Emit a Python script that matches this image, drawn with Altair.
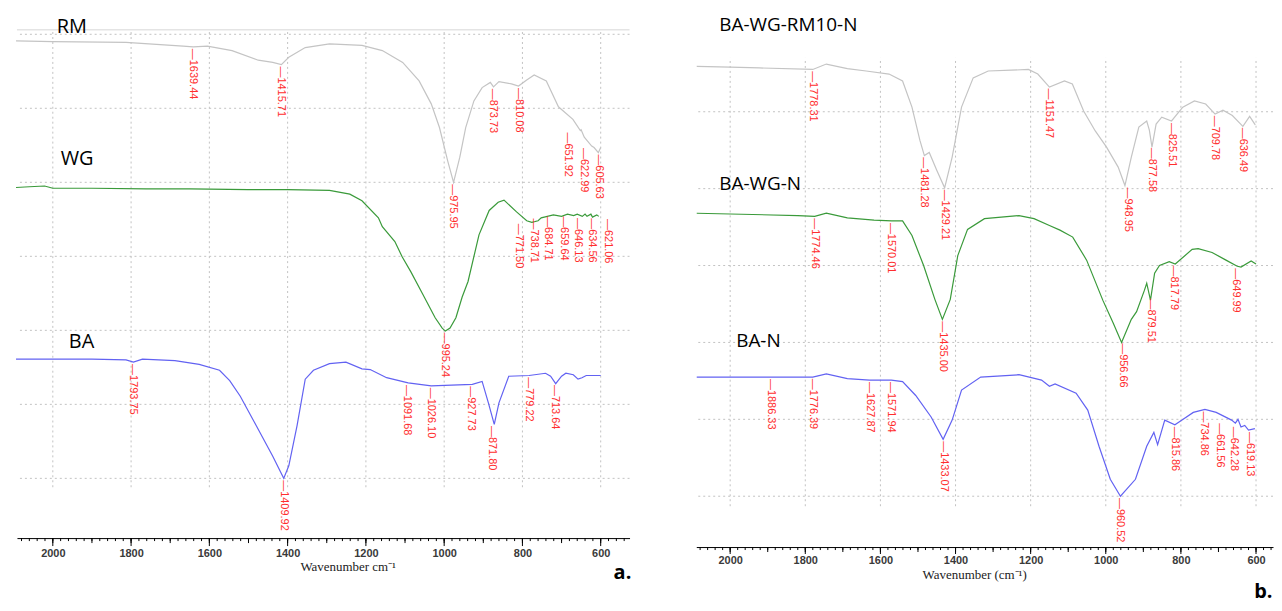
import altair as alt
import pandas as pd
import numpy as np

# ---------------- panel a spectra ----------------
rm_wn = [2094, 2000, 1813, 1667, 1641, 1605, 1542, 1475, 1438, 1416, 1397, 1355, 1293, 1210, 1158, 1106,
         1064, 1033, 1012, 991, 976, 960, 945, 924, 903, 882, 874, 860, 828, 810, 790, 770, 739, 708,
         671, 652, 650, 642, 623, 617, 606, 600]
rm_val = [5.91, 5.90, 5.89, 5.84, 5.83, 5.84, 5.78, 5.65, 5.62, 5.59, 5.69, 5.82, 5.87, 5.85, 5.78, 5.62,
          5.37, 5.06, 4.74, 4.29, 4.00, 4.34, 4.74, 5.10, 5.28, 5.35, 5.29, 5.36, 5.33, 5.30, 5.38, 5.45,
          5.37, 5.02, 4.85, 4.70, 4.71, 4.61, 4.49, 4.47, 4.40, 4.47]

wg_wn = [2094, 2060, 2021, 2000, 1900, 1761, 1650, 1501, 1400, 1293, 1241, 1210, 1168, 1158, 1126, 1107,
         1085, 1056, 1023, 1005, 997, 985, 970, 954, 939, 911, 885, 862, 847, 815, 789, 776, 760, 752,
         721, 700, 685, 669, 660, 647, 640, 635, 625, 621, 610, 605]
wg_val = [3.93, 3.94, 3.95, 3.92, 3.92, 3.91, 3.91, 3.90, 3.90, 3.89, 3.84, 3.75, 3.52, 3.40, 3.20, 2.99,
          2.79, 2.50, 2.17, 2.03, 1.99, 2.03, 2.17, 2.45, 2.66, 3.29, 3.62, 3.73, 3.76, 3.60, 3.48, 3.46,
          3.48, 3.52, 3.56, 3.54, 3.57, 3.55, 3.57, 3.54, 3.57, 3.54, 3.57, 3.53, 3.56, 3.54]

ba_wn = [2094, 1900, 1813, 1794, 1771, 1688, 1626, 1574, 1548, 1521, 1480, 1438, 1410, 1397, 1376, 1355,
         1334, 1293, 1251, 1210, 1189, 1147, 1092, 1033, 981, 928, 903, 887, 872, 860, 835, 783, 741,
         728, 715, 700, 689, 670, 658, 648, 637, 600]
ba_val = [1.61, 1.61, 1.60, 1.57, 1.61, 1.59, 1.54, 1.46, 1.32, 1.11, 0.71, 0.30, 0.00, 0.17, 0.71, 1.34,
          1.46, 1.55, 1.57, 1.48, 1.47, 1.36, 1.29, 1.25, 1.26, 1.27, 1.31, 1.02, 0.73, 1.02, 1.38, 1.39,
          1.42, 1.38, 1.28, 1.38, 1.42, 1.40, 1.34, 1.36, 1.39, 1.39]

# ---------------- panel b spectra ----------------
g_wn = [2089, 2000, 1922, 1780, 1744, 1688, 1638, 1577, 1541, 1516, 1495, 1483, 1470, 1450, 1429, 1409,
        1384, 1353, 1313, 1252, 1206, 1181, 1150, 1110, 1089, 1059, 1028, 998, 967, 949, 932, 912, 891,
        884, 877, 866, 851, 825, 795, 764, 734, 709, 688, 663, 635, 617, 602]
g_val = [5.59, 5.58, 5.57, 5.55, 5.62, 5.56, 5.53, 5.49, 5.40, 5.06, 4.63, 4.43, 4.47, 4.24, 4.01, 4.41,
         5.06, 5.44, 5.53, 5.54, 5.55, 5.49, 5.32, 5.40, 5.36, 5.01, 4.75, 4.54, 4.28, 4.04, 4.41, 4.80,
         4.88, 4.76, 4.54, 4.84, 4.93, 4.88, 5.06, 5.14, 5.10, 4.97, 5.02, 4.95, 4.81, 4.94, 4.83]

gn_wn = [2089, 2000, 1820, 1775, 1744, 1688, 1617, 1570, 1541, 1516, 1485, 1455, 1435, 1414, 1394, 1368,
         1323, 1231, 1191, 1150, 1122, 1088, 1051, 1008, 980, 958, 932, 918, 897, 891, 881, 870, 857,
         831, 815, 770, 754, 717, 680, 650, 640, 613, 600]
gn_val = [3.68, 3.67, 3.65, 3.64, 3.68, 3.62, 3.59, 3.58, 3.58, 3.39, 3.00, 2.56, 2.30, 2.56, 3.13, 3.47,
          3.61, 3.65, 3.61, 3.52, 3.46, 3.37, 3.07, 2.55, 2.25, 2.00, 2.30, 2.40, 2.68, 2.77, 2.55, 2.90,
          3.00, 3.05, 3.02, 3.21, 3.22, 3.17, 3.07, 2.99, 2.98, 3.06, 3.02]

bn_wn = [2089, 2000, 1891, 1780, 1744, 1688, 1629, 1571, 1541, 1506, 1465, 1433, 1409, 1384, 1333, 1231,
         1171, 1150, 1135, 1079, 1048, 1018, 988, 961, 921, 891, 872, 862, 843, 816, 797, 767, 736, 706,
         665, 655, 648, 640, 630, 620, 603]
bn_val = [1.55, 1.55, 1.55, 1.55, 1.59, 1.53, 1.51, 1.51, 1.49, 1.31, 1.03, 0.74, 0.99, 1.38, 1.55, 1.58,
          1.51, 1.43, 1.46, 1.34, 1.12, 0.65, 0.22, 0.00, 0.22, 0.65, 0.83, 0.67, 0.99, 0.93, 0.99, 1.09,
          1.13, 1.09, 0.99, 0.95, 1.00, 0.90, 0.92, 0.86, 0.88]

# ---------------- peak annotations ----------------
rm_peaks = ["1639.44", "1415.71", "975.95", "873.73", "810.08", "651.92", "622.99", "605.63"]
rm_peak_x = [1641, 1416, 978, 874, 810, 684, 643, 604]
wg_peaks = ["995.24", "771.50", "738.71", "684.71", "659.64", "646.13", "634.56", "621.06"]
wg_peak_x = [998, 810, 771, 735, 695, 657, 621, 582]
ba_peaks = ["1793.75", "1409.92", "1091.68", "1026.10", "927.73", "871.80", "779.22", "713.64"]
ba_peak_x = [1794, 1410, 1095, 1033, 931, 877, 783, 716]

g_peaks = ["1778.31", "1481.28", "1429.21", "1151.47", "948.95", "877.58", "825.51", "709.78", "636.49"]
g_peak_x = [1780, 1483, 1429, 1150, 942, 876, 825, 709, 635]
gn_peaks = ["1774.46", "1570.01", "1435.00", "956.66", "879.51", "817.79", "649.99"]
gn_peak_x = [1775, 1572, 1433, 955, 879, 819, 653]
bn_peaks = ["1886.33", "1776.39", "1627.87", "1571.94", "1433.07", "960.52", "815.86", "734.86",
            "661.56", "642.28", "619.13"]
bn_peak_x = [1891, 1780, 1629, 1571, 1432, 962, 817, 739, 696, 658, 617]

# series names and their anchors (wavenumber, level)
a_names = ["RM", "WG", "BA"]
a_name_x = [1990, 1980, 1959]
a_name_y = [6.02, 4.23, 1.76]
b_names = ["BA-WG-RM10-N", "BA-WG-N", "BA-N"]
b_name_x = [2029, 2029, 1984]
b_name_y = [6.05, 3.98, 1.94]

minor_ticks = list(range(540, 2100, 20))
mid_ticks = list(range(600, 2100, 100))
major_ticks = list(range(600, 2001, 200))

RED = "#ff2e2e"


def curve(wn, val, name):
    return pd.DataFrame({"wn": wn, "val": val, "series": name, "i": range(len(wn))})


def peaks(texts, xs, wn, val, name):
    w = np.array(wn[::-1], dtype=float)
    v = np.array(val[::-1], dtype=float)
    ys = [float(np.interp(float(t), w, v)) for t in texts]
    return pd.DataFrame({"wn": xs, "val": ys, "text": ["\u2014" + t for t in texts], "series": name})


def panel(curves, colors, labels, names, name_x, name_y, xdom, ydom, width, height,
          hgrid, vgrid_lo, vgrid_hi, title, title_x, tag, tag_x, tag_y, major, border=None, name_size=19):
    xs = alt.Scale(domain=xdom, reverse=True, nice=False, zero=False)
    ys = alt.Scale(domain=ydom, nice=False, zero=False)
    xaxis = alt.Axis(
        values=major_ticks, format="d", ticks=False,
        domainColor="black", grid=False,
        labelFont="Liberation Sans", labelFontSize=11, labelColor="#3a3a3a", labelFontWeight="bold",
        labelPadding=major + 1, labelOverlap=False,
        title=title, titleFont="Liberation Serif", titleFontSize=13, titleFontWeight="normal",
        titleColor="#222222", titlePadding=3, titleX=title_x,
    )

    def X(field):
        return alt.X(field, type="quantitative", scale=xs, axis=xaxis)

    def Y(field):
        return alt.Y(field, type="quantitative", scale=ys, axis=None)

    hg = alt.Chart(pd.DataFrame({"g": hgrid})).mark_rule(
        color="#c2c2c2", strokeDash=[2, 3], strokeWidth=1).encode(y=Y("g"))
    vg = alt.Chart(pd.DataFrame({"g": major_ticks, "lo": vgrid_lo, "hi": vgrid_hi})).mark_rule(
        color="#c2c2c2", strokeDash=[2, 3], strokeWidth=1).encode(x=X("g"), y=Y("lo"), y2="hi")
    layers = [hg, vg]
    if border is not None:
        layers.append(alt.Chart(pd.DataFrame({"b": [border]})).mark_rule(
            color="#d6d6d6", strokeWidth=1).encode(y=Y("b")))

    lo, hi = min(xdom), max(xdom)
    for vals, size in ((minor_ticks, 3), (mid_ticks, 5), (major_ticks, major)):
        tv = [t for t in vals if lo <= t <= hi]
        layers.append(alt.Chart(pd.DataFrame({"t": tv})).mark_rule(color="black", strokeWidth=1).encode(
            x=X("t"), y=alt.value(height), y2=alt.value(height + size)))

    data = pd.concat(curves, ignore_index=True)
    order = [c["series"].iloc[0] for c in curves]
    lines = alt.Chart(data).mark_line(strokeWidth=1.2, interpolate="linear").encode(
        x=X("wn"), y=Y("val"),
        color=alt.Color("series:N", scale=alt.Scale(domain=order, range=colors), legend=None),
        order="i:Q",
    )
    layers.append(lines)

    lab = alt.Chart(pd.concat(labels, ignore_index=True)).mark_text(
        angle=90, align="left", baseline="middle", dx=2, font="Liberation Sans", fontSize=11,
        color=RED).encode(x=X("wn"), y=Y("val"), text="text:N")
    layers.append(lab)

    nm = alt.Chart(pd.DataFrame({"wn": name_x, "val": name_y, "t": names})).mark_text(
        align="left", baseline="alphabetic", font="Open Sans", fontSize=name_size, color="black"
    ).encode(x=X("wn"), y=Y("val"), text="t:N")
    layers.append(nm)

    tg = alt.Chart(pd.DataFrame({"wn": [tag_x], "val": [tag_y], "t": [tag]})).mark_text(
        align="left", baseline="alphabetic", font="Open Sans", fontSize=20, fontWeight="bold",
        color="black").encode(x=X("wn"), y=Y("val"), text="t:N")
    layers.append(tg)

    return alt.layer(*layers).properties(width=width, height=height)


a_curves = [curve(rm_wn, rm_val, "RM"), curve(wg_wn, wg_val, "WG"), curve(ba_wn, ba_val, "BA")]
a_labels = [peaks(rm_peaks, rm_peak_x, rm_wn, rm_val, "RM"),
            peaks(wg_peaks, wg_peak_x, wg_wn, wg_val, "WG"),
            peaks(ba_peaks, ba_peak_x, ba_wn, ba_val, "BA")]
b_curves = [curve(g_wn, g_val, "BA-WG-RM10-N"), curve(gn_wn, gn_val, "BA-WG-N"), curve(bn_wn, bn_val, "BA-N")]
b_labels = [peaks(g_peaks, g_peak_x, g_wn, g_val, "BA-WG-RM10-N"),
            peaks(gn_peaks, gn_peak_x, gn_wn, gn_val, "BA-WG-N"),
            peaks(bn_peaks, bn_peak_x, bn_wn, bn_val, "BA-N")]

COLORS = ["#c4c4c4", "#3a9a3a", "#6262f2"]

pa = panel(a_curves, COLORS, a_labels, a_names, a_name_x, a_name_y,
           [526.3, 2091.6], [-0.807, 6.272], 615, 526,
           list(range(0, 7)), [-0.12] * 8, [6.06] * 8,
           "Wavenumber cm\u207b\u00b9", 332, "a.", 567, -1.36, 8, border=6.06, name_size=20)

pb = panel(b_curves, COLORS, b_labels, b_names, b_name_x, b_name_y,
           [554.8, 2090.2], [-0.661, 6.269], 579, 535,
           list(range(0, 6)), [-0.13] * 8, [5.70] * 8,
           "Wavenumber (cm\u207b\u00b9)", 279, "b.", 605, -1.33, 7, name_size=19)

chart = alt.hconcat(pa, pb, spacing=67, bounds="flush").properties(
    padding={"left": 5, "top": 5, "right": 0, "bottom": 0}
).configure_view(stroke=None)

chart.save("out.html", embed_options={"renderer": "svg", "actions": False})
